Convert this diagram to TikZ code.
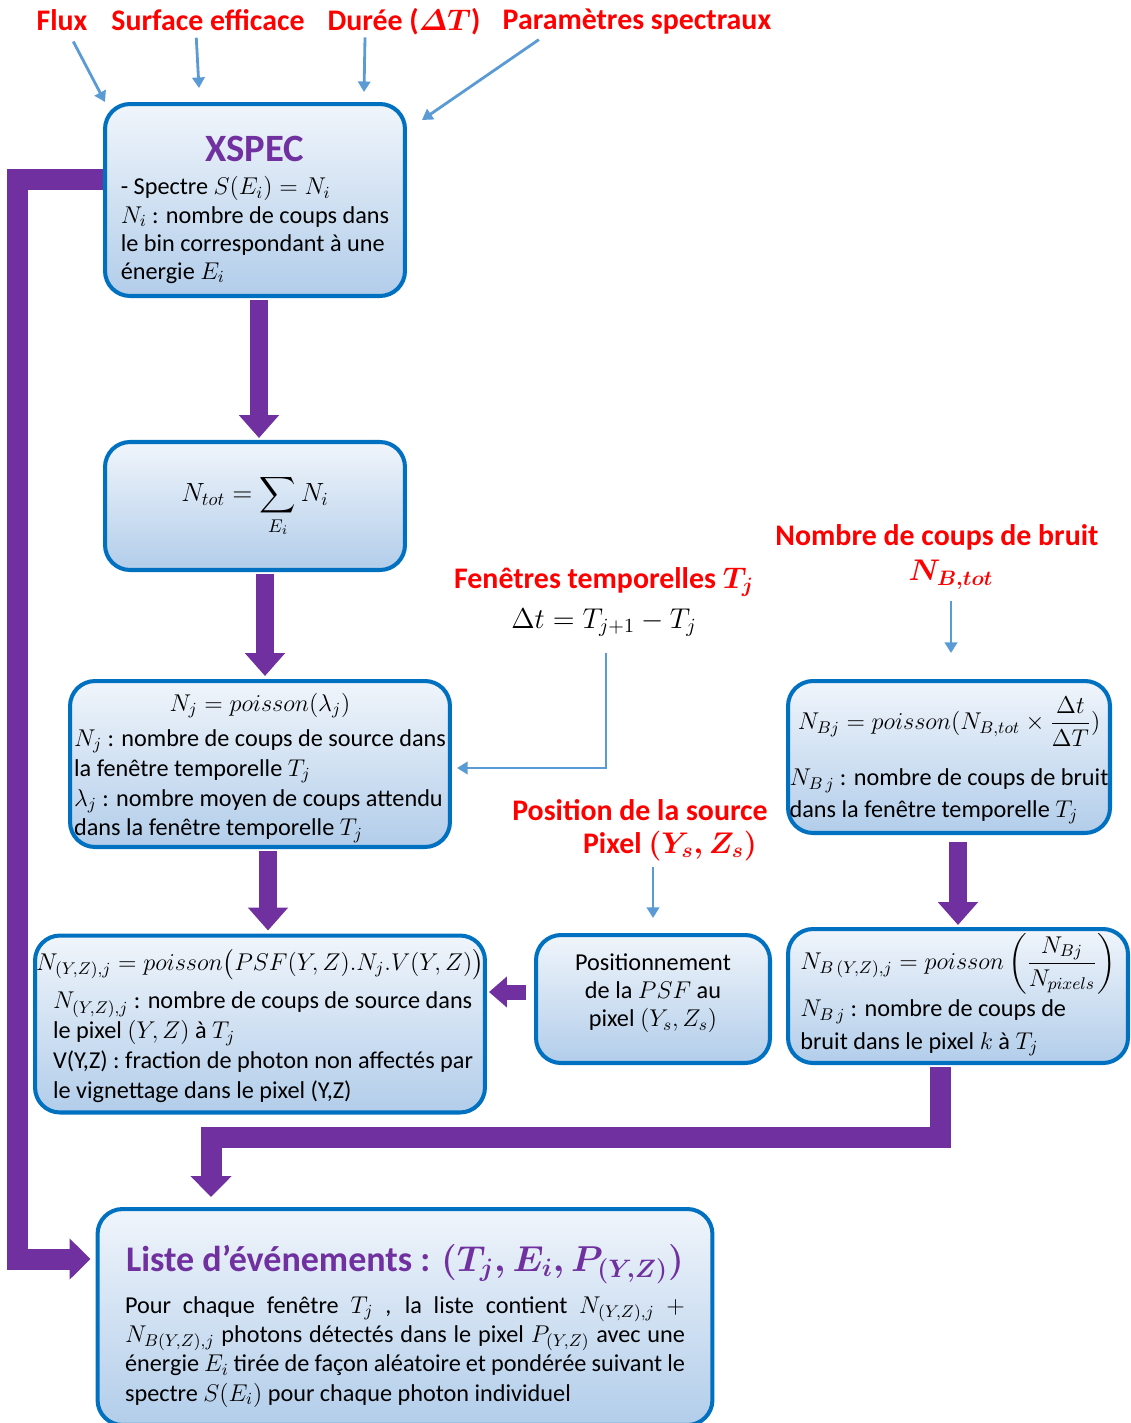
\RequirePackage{fix-cm}
\documentclass[tikz,border=0pt]{standalone}
\usepackage{amsmath}
\usepackage{fontspec}
\setmainfont{Carlito}
\usetikzlibrary{arrows.meta, positioning}
\definecolor{flowpurple}{RGB}{112, 48, 160}
\definecolor{boxblue}{RGB}{0, 112, 192}
\definecolor{boxtop}{RGB}{240, 245, 251}
\definecolor{boxbot}{RGB}{178, 205, 234}
\definecolor{inblue}{RGB}{91, 155, 213}
\definecolor{lblred}{RGB}{255, 0, 0}
\newcommand\bodyfont{\fontsize{13.8}{17}\selectfont}
\newcommand\titlefont{\fontsize{22}{26}\selectfont\bfseries\boldmath\color{flowpurple}}
\newcommand\lblfont{\fontsize{17}{20}\selectfont\bfseries\boldmath}

\begin{document}
\begin{tikzpicture}[
  x = 0.02cm, y = -0.02cm,
  box/.style    = {rectangle, rounded corners=0.5cm, draw=boxblue, line width=2.3pt,
                   top color=boxtop, bottom color=boxbot, font=\bodyfont,
                   inner sep=0pt, align=center},
  lbl/.style    = {font=\lblfont, text=lblred, inner sep=1pt},
  arr/.style    = {draw=flowpurple, line width=0.36cm,
                   -{Triangle[width=0.78cm, length=0.46cm]}},
  smallarr/.style = {draw=flowpurple, line width=0.3cm,
                   -{Triangle[width=0.6cm, length=0.36cm]}},
  bigarr/.style = {draw=flowpurple, line width=0.42cm,
                   -{Triangle[width=0.8cm, length=0.42cm]}},
  inarr/.style  = {draw=inblue, line width=1.6pt,
                   -{Triangle[width=7pt, length=6pt]}},
]
  \useasboundingbox (0,0) rectangle (1130,1423);

  % XSPEC
  \node[box, minimum width=6cm, minimum height=3.84cm,
        font=\fontsize{13.8}{16}\selectfont] (xspec) at (255,200) {%
    \begin{tabular}{@{}l@{}}
    \multicolumn{1}{@{}c@{}}{\rule{0pt}{28pt}\titlefont XSPEC}\\[3pt]
    - Spectre $S(E_i) = N_i$\\
    $N_i$ : nombre de coups dans\\
    le bin correspondant à une\\
    énergie $E_i$
    \end{tabular}};

  % Ntot
  \node[box, minimum width=6cm, minimum height=2.56cm, font=\fontsize{15}{18}\selectfont] (ntot) at (255,506)
    {$\displaystyle N_{tot} = \sum_{E_i} N_i$};

  % Nj
  \node[box, minimum width=7.6cm, minimum height=3.32cm] (nj) at (260,764) {%
    \begin{tabular}{@{}l@{}}
    \multicolumn{1}{@{}c@{}}{\rule{0pt}{16pt}$N_j = poisson(\lambda_j)$}\\[3pt]
    $N_j$ : nombre de coups de source dans\\
    la fenêtre temporelle $T_j$\\
    $\lambda_j$ : nombre moyen de coups attendu\\
    dans la fenêtre temporelle $T_j$
    \end{tabular}};

  % NBj
  \node[box, minimum width=6.44cm, minimum height=3.04cm, font=\fontsize{13.8}{18}\selectfont] (nbj) at (949,757) {%
    \begin{tabular}{@{}l@{}}
    \multicolumn{1}{@{}c@{}}{\rule{0pt}{24pt}$N_{Bj} = poisson(N_{B,tot}\times\dfrac{\Delta t}{\Delta T})$}\\[14pt]
    $N_{B\,j}$ : nombre de coups de bruit\\
    dans la fenêtre temporelle $T_j$
    \end{tabular}};

  % N(Y,Z),j
  \node[box, minimum width=9cm, minimum height=3.54cm] (nyz) at (260,1024) {%
    \begin{tabular}{@{}l@{}}
    \rule{0pt}{17pt}$N_{(Y,Z),j} = poisson\bigl(PSF(Y,Z).N_j.V(Y,Z)\bigr)$\\[5pt]
    \hspace{0.34cm}$N_{(Y,Z),j}$ : nombre de coups de source dans\\
    \hspace{0.34cm}le pixel $(Y,Z)$ à $T_j$\\
    \hspace{0.34cm}V(Y,Z) : fraction de photon non affectés par\\
    \hspace{0.34cm}le vignettage dans le pixel (Y,Z)
    \end{tabular}};

  % PSF
  \node[box, minimum width=4.68cm, minimum height=2.56cm,
        font=\fontsize{13.8}{16}\selectfont] (pos) at (653,999)
    {Positionnement\\de la $PSF$ au\\pixel $(Y_s,Z_s)$\rule[-10pt]{0pt}{0pt}};

  % NB(Y,Z),j
  \node[box, minimum width=6.8cm, minimum height=2.68cm, font=\fontsize{13.8}{18.5}\selectfont] (nbyz) at (958,996) {%
    \begin{tabular}{@{}l@{}}
    \multicolumn{1}{@{}c@{}}{$N_{B\,(Y,Z),j} = poisson\left(\dfrac{N_{B j}}{N_{pixels}}\right)$}\\[2pt]
    $N_{B\,j}$ : nombre de coups de\\
    bruit dans le pixel $k$ à $T_j$
    \end{tabular}};

  % Liste
  \node[box, minimum width=12.3cm, minimum height=4.32cm,
        text width=11.2cm, align=justify, font=\fontsize{13.8}{16.7}\selectfont] (liste) at (405,1317) {%
    \makebox[\linewidth][c]{\rule{0pt}{25.5pt}\titlefont\fontsize{20.5}{26}\selectfont Liste d’événements : $(T_j, E_i, P_{(Y,Z)})$}\par
    \vspace{7pt}
    Pour chaque fenêtre $T_j$ , la liste contient $N_{(Y,Z),j}\ +$\linebreak
    $N_{B(Y,Z),j}$ photons détectés dans le pixel $P_{(Y,Z)}$ avec une\linebreak
    énergie $E_i$ tirée de façon aléatoire et pondérée suivant le\linebreak
    spectre $S(E_i)$ pour chaque photon individuel};

  % Inputs
  \node[lbl] (flux) at (62,20) {Flux};
  \node[lbl] (surf) at (208,20) {Surface efficace};
  \node[lbl] (duree) at (404,22) {Durée ($\varDelta T$)};
  \node[lbl] (param) at (637,22) {Paramètres spectraux};
  \node[lbl] (bruit) at (937,537) {Nombre de coups de bruit};
  \node[lbl] (nbtot) at (951,575) {$N_{B,tot}$};
  \node[lbl] (fen) at (604,582) {Fenêtres temporelles $T_j$};
  \node[font=\fontsize{16.3}{20}\selectfont, below=2pt of fen] (dt) {$\Delta t = T_{j+1} - T_j$};
  \node[lbl] (possrc) at (640,810) {Position de la source};
  \node[lbl] (pixsrc) at (670,846) {Pixel $(Y_s,Z_s)$};

  \coordinate (fluxtip) at (105,102);
  \coordinate (surftip) at (199,88);
  \coordinate (dureetip) at (364,92);
  \coordinate (paramtip) at (422,120);

  % Thin arrows
  \draw[inarr, shorten <=0.2cm] (flux) -- (fluxtip);
  \draw[inarr, shorten <=0.1cm] ([xshift=-0.24cm]surf.south) -- (surftip);
  \draw[inarr] ([xshift=-0.78cm]duree.south) -- (dureetip);
  \draw[inarr, shorten <=0.1cm] ([xshift=-1.88cm]param.south) -- (paramtip);
  \draw[inarr, shorten <=0.2cm, shorten >=0.1cm] ([xshift=0.04cm]dt.south) |- ([yshift=-0.08cm]nj.east);
  \draw[inarr, shorten <=0.18cm, shorten >=0.52cm] (nbtot.south) -- (nbtot.south |- nbj.north);
  \draw[inarr, shorten <=0.08cm, shorten >=0.3cm] (pos.north |- pixsrc.south) -- (pos.north);

  % Flow arrows
  \draw[arr, shorten <=1.2pt, shorten >=0.04cm] ([xshift=0.08cm]xspec.south) -- ([xshift=0.08cm]xspec.south |- ntot.north);
  \draw[arr, shorten <=1.2pt, shorten >=0.06cm] ([xshift=0.2cm]ntot.south) -- ([xshift=0.2cm]ntot.south |- nj.north);
  \draw[arr, shorten <=1.2pt, shorten >=0.06cm] ([xshift=0.16cm]nj.south) -- ([xshift=0.16cm]nj.south |- nyz.north);
  \draw[arr, shorten <=0.14cm, shorten >=0.04cm] (nbyz.north |- nbj.south) -- (nbyz.north);
  \draw[smallarr, shorten <=0.16cm, shorten >=0.04cm] ([yshift=0.14cm]pos.west) -- ([yshift=0.14cm]pos.west -| nyz.east);
  \draw[bigarr, shorten >=0.1cm] ([yshift=0.42cm]xspec.west) -- ++(-86,0) |- ([yshift=1.16cm]liste.west);
  \draw[bigarr, shorten <=1.2pt, shorten >=0.2cm] ([xshift=-0.36cm]nbyz.south) -- ++(0,72) -| ([xshift=-3.88cm]liste.north);
\end{tikzpicture}
\end{document}
